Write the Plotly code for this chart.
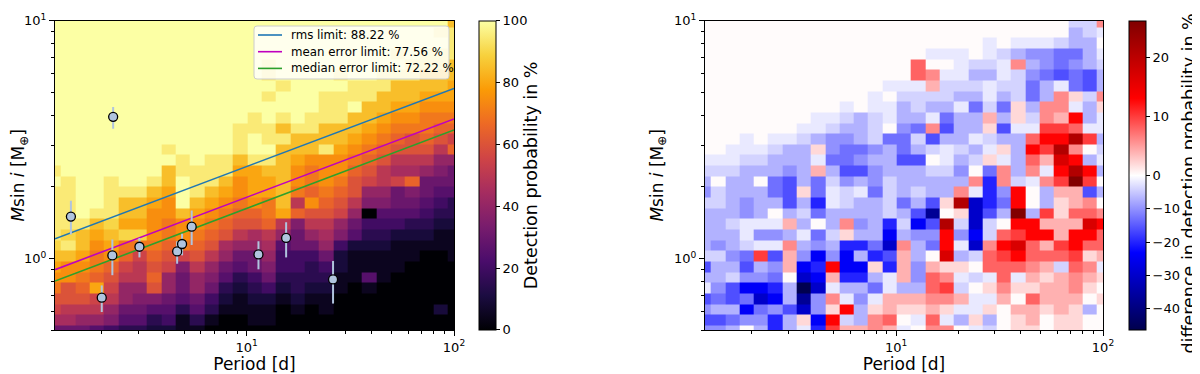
import numpy as np
import plotly.graph_objects as go

# injection grid: log10 of first bin edge and bin width (period, mass)
LOGP_START, LOGP_STEP = 0.0352, 0.0691
LOGM_START, LOGM_STEP = -0.3263, 0.0448

# detection probability, one string per period bin (low -> high mass),
# each character is a 5 % step: '0' = 0 %, 'K' = 100 %
LEVELS = "0123456789ABCDEFGHIJK"
det_columns = [
    "69BCEFGHIJJJJJKJKKKKKKKKKKKKKK",
    "69ACCFFHJIJJJJJKKKKKKKKKKKKKKK",
    "68ACDEFGHHJKKKKKKKKKKKKKKKKKKK",
    "58ABGDEEFGHJKKKKKKKKKKKKKKKKKK",
    "478ABCDFGHIJJJJKKKKKKKKKKKKKKK",
    "35688ABDEIGHHJKKKKKKKKKKKKKKKK",
    "35678AABEIGHHJKKKKKKKKKKKKKKKK",
    "2357CDCDEFFFGHJKKKKKKKKKKKKKKK",
    "245688BCDEEFFGHHKJKKKKKKKKKKKK",
    "1135667BEFFHKKKJJKKKKKKKKKKKKK",
    "135688ACDEFGHJJJKKKKKKKKKKKKKK",
    "0134678ACDEFGHJJJKKKKKKKKKKKKK",
    "001235689CDEFGHJJKKKKKKKKKKKKK",
    "001123568ACDEFFGHJJJKKKKKKKKKK",
    "0112346689CDFGGGJKKJJKKKKKKKKK",
    "011246789ADEEGGHJKJJKKJKJJKKKK",
    "0001234458AGHHHHHHJHJKKJKKKKKK",
    "00123344667DAEFFGHHJKKKKKKKKKK",
    "0001233468ACFDEEFHHJJKKKKKKKKK",
    "0011234689ACDEFFFJHHJJJKKKKKKK",
    "00001122478BCDEFFGHHJJJKJKKKKK",
    "000001112568ACCDEFGHHKJJKKKKKK",
    "00001511234078BCDEFGHHJJKKKKKK",
    "00000111234578AACDEFGHHJJKKKKK",
    "00000011124566B9ACDEFGHHJKJKKK",
    "00000001123567D9ACCEFGHHJJKKKK",
    "0000000012345668ACDEEFGHHJJKKK",
    "00200000112345678ACDEFGHHJJKJK",
    "00000001112335668DBDEFGGHHJJJH",
]

# difference in detection probability (%), one string per mass bin from the
# top row down, low -> high period
DIFF_CODE = {
    ".": 0.2,
    "a": -2, "b": -4, "c": -7, "d": -10, "e": -13, "f": -16,
    "g": -20, "h": -24, "i": -30, "j": -37, "k": -46,
    "A": 2, "B": 4, "C": 6, "D": 8, "E": 10, "F": 13,
    "G": 17, "H": 21, "I": 26,
}
diff_rows = [
    "." * 26 + "bbC",
    "." * 26 + "cba",
    "." * 20 + "a.aaabcc.",
    "." * 16 + "aaa.abcddeeca",
    "." * 15 + "D..abbaCcdedcb",
    "." * 15 + "DCaaccabdefefc",
    "." * 13 + "aaaBbbbabbecaefc",
    "." * 12 + "a.bbbbccacbecCAbC",
    "." * 10 + "a.aacbccaebeAcCCacA",
    "." * 8 + "aabcbaccaeccBcAbCBFca",
    "." * 7 + "aabccb.deCfccAfaaEEDaa",
    "...a.aab" + "cddcbeeb" + "fccabccDFFHEc",
    "..aaabcc" + "Adeedcec" + "babcaAcFEHC.b",
    "aaabbccc" + "aeedccff" + ".acbAacDBGFca",
    "bbbcccdc" + "Bcffdccc" + "bbd.eCcCaFHFc",
    "c.cc.efc" + "ebdcdbc" + "ccccCgCbaCEIE.",
    "dbcccefA" + "eabaebc" + "bccCagdF.cBBfc",
    "bbcdccfc" + "gabccbe" + "cfAHigeF.cABC.",
    "cccdc.cb" + "eccccbc" + "fj.AifcIcEADDC",
    "ccbaaaBc" + ".cCdcgbh" + "fHbib.FFBBBGF",
    "cccaddca" + "ebAcchcd" + "dFdhbDEFFBFFD",
    "cdcbaaCc" + "dcggeiCc" + "eFaiCFGDBEFDD",
    "bbdeEfBd" + "hdhcgfBc" + ".GcbDEFDDDEAB",
    "fccfcdBh" + "gFhhAgBd" + "BAA.DDDCBbDCa",
    "ccbdde.i" + "hBggcaBd" + "DCabaDaBABCBA",
    "adfhhgck" + "iacceacc" + "DEb.ACAABBCA.",
    "fefeihcj" + "dCadaBBB" + "CCBaaB.DBBB.A",
    "dcchedfi" + "dAFcABAA" + "BAaaA.BBABAc.",
    "ffeddgcA" + "hFbcCD.a" + "DacAc.AB.AA..",
    "ddc.cgca" + "gEBBCBa." + "CC.ab.AA.AA..",
]
DIFF_MIN, DIFF_MAX = -46.3, 26.2

# known planets
planet_period = [2.27, 1.42, 2.25, 2.00, 3.04, 4.62, 4.88, 5.43, 15.5, 11.4, 26.1]
planet_mass = [3.94, 1.50, 1.03, 0.684, 1.12, 1.07, 1.15, 1.36, 1.22, 1.04, 0.816]
planet_err_hi = [0.40, 0.25, 0.17, 0.086, 0.10, 0.11, 0.12, 0.23, 0.20, 0.14, 0.16]
planet_err_lo = [0.43, 0.24, 0.18, 0.089, 0.11, 0.12, 0.12, 0.22, 0.21, 0.14, 0.17]

# amplitude limits
limit_period = [1.19, 100]
limit_lines = {
    "rms limit: 88.22 %": ([1.21, 5.19], "#1f77b4"),
    "mean error limit: 77.56 %": ([0.897, 3.86], "#bf00bf"),
    "median error limit: 72.22 %": ([0.803, 3.47], "#2ca02c"),
}

for c in det_columns:
    assert len(c) == 30, c
for r in diff_rows:
    assert len(r) == 29, r

p_edges = 10 ** (LOGP_START + LOGP_STEP * np.arange(len(det_columns) + 1))
m_edges = 10 ** (LOGM_START + LOGM_STEP * np.arange(len(diff_rows) + 1))

z_det = np.array([[LEVELS.index(ch) * 5 for ch in col] for col in det_columns]).T
z_diff = np.array([[DIFF_CODE[ch] for ch in row] for row in diff_rows[::-1]])
# two-slope normalisation centred on zero
z_norm = np.where(z_diff >= 0, 0.5 + z_diff / (2 * DIFF_MAX), 0.5 + z_diff / (-2 * DIFF_MIN))
diff_ticks = [20, 10, 0, -10, -20, -30, -40]
diff_tickpos = [0.5 + v / (2 * DIFF_MAX) if v >= 0 else 0.5 + v / (-2 * DIFF_MIN) for v in diff_ticks]

seismic = [[0, "rgb(0,0,77)"], [0.25, "rgb(0,0,255)"], [0.5, "rgb(255,255,255)"],
           [0.75, "rgb(255,0,0)"], [1, "rgb(128,0,0)"]]

# the page body has an 8 px margin, so lay the figure out 8 px smaller
OFF = 8
W, H = 1200 - OFF, 374 - OFF
def fx(px):
    return (px - OFF) / W
def fy(py):
    return 1 - (py - OFF) / H

ytop, ybot = 20.7, 330
ydom = [fy(ybot), fy(ytop)]
cb_len = (ybot - ytop) / H
cb_y = fy((ytop + ybot) / 2)

fig = go.Figure()

fig.add_trace(go.Heatmap(
    z=z_det, x=p_edges, y=m_edges, colorscale="Inferno", zmin=0, zmax=100,
    xaxis="x", yaxis="y",
    colorbar=dict(
        x=fx(479), xanchor="left", xpad=0, ypad=0, thickness=17, len=cb_len, y=cb_y,
        yanchor="middle", outlinecolor="black", outlinewidth=1, ticks="outside",
        ticklen=4, tickcolor="black", tickvals=[0, 20, 40, 60, 80, 100],
        tickfont=dict(size=13, color="black"),
        title=dict(text="Detection probability in %", side="right", font=dict(size=17.5)),
    ),
))

for name, (vals, col) in limit_lines.items():
    fig.add_trace(go.Scatter(
        x=limit_period, y=vals, mode="lines", name=name, showlegend=False,
        line=dict(color=col, width=1.6), xaxis="x", yaxis="y",
    ))

fig.add_trace(go.Scatter(
    x=planet_period, y=planet_mass, mode="markers", showlegend=False,
    marker=dict(size=9, color="#b0c4de", line=dict(color="black", width=1.3)),
    error_y=dict(type="data", array=planet_err_hi, arrayminus=planet_err_lo,
                 color="#b0c4de", thickness=2, width=0),
    xaxis="x", yaxis="y",
))

fig.add_trace(go.Heatmap(
    z=z_norm, x=p_edges, y=m_edges, colorscale=seismic, zmin=0, zmax=1,
    xaxis="x2", yaxis="y2",
    colorbar=dict(
        x=fx(1129), xanchor="left", xpad=0, ypad=0, thickness=17, len=cb_len, y=cb_y,
        yanchor="middle", outlinecolor="black", outlinewidth=1, ticks="outside",
        ticklen=4, tickcolor="black", tickvals=diff_tickpos,
        ticktext=[str(v).replace("-", "\u2212") for v in diff_ticks],
        tickfont=dict(size=13, color="black"),
    ),
))

# right colourbar label, placed by hand so it stays inside the page
fig.add_annotation(
    text="difference in detection probability in %", textangle=-90,
    x=fx(1188), y=fy(183.5), xref="paper", yref="paper",
    xanchor="center", yanchor="middle", showarrow=False, font=dict(size=17.5),
)

# legend box drawn by hand (matplotlib-style, compact rows)
bx0, bx1, by0, by1, rad = fx(254), fx(449), fy(79), fy(26), 3
rx, ry = rad / W, rad / H
box_path = (
    f"M{bx0 + rx},{by1} L{bx1 - rx},{by1} Q{bx1},{by1} {bx1},{by1 - ry} "
    f"L{bx1},{by0 + ry} Q{bx1},{by0} {bx1 - rx},{by0} L{bx0 + rx},{by0} "
    f"Q{bx0},{by0} {bx0},{by0 + ry} L{bx0},{by1 - ry} Q{bx0},{by1} {bx0 + rx},{by1} Z"
)
fig.add_shape(type="path", path=box_path, xref="paper", yref="paper",
              fillcolor="rgba(255,255,255,0.8)", line=dict(color="#cccccc", width=1))
for i, (name, (vals, col)) in enumerate(limit_lines.items()):
    row_y = fy(35 + 16.7 * i)
    fig.add_shape(type="line", xref="paper", yref="paper", x0=fx(258), x1=fx(282),
                  y0=row_y, y1=row_y, line=dict(color=col, width=1.6))
    fig.add_annotation(text=name, x=fx(289), y=row_y, xref="paper", yref="paper",
                       xanchor="left", yanchor="middle", showarrow=False,
                       font=dict(size=11.8))

p_minor = [2, 3, 4, 5, 6, 7, 8, 9, 20, 30, 40, 50, 60, 70, 80, 90]
m_minor = [0.5, 0.6, 0.7, 0.8, 0.9, 2, 3, 4, 5, 6, 7, 8, 9]
axis_style = dict(
    type="log", showline=True, linecolor="black", linewidth=1, mirror=True,
    ticks="outside", ticklen=5, tickcolor="black", showgrid=False, zeroline=False,
    tickfont=dict(size=13, color="black"),
)
xstyle = dict(axis_style, range=[np.log10(1.19), 2], tickvals=[1, 10, 100],
              ticktext=["10<sup>0</sup>", "10<sup>1</sup>", "10<sup>2</sup>"],
              minor=dict(ticks="outside", ticklen=3, tickcolor="black", tickvals=p_minor),
              title=dict(text="Period [d]", font=dict(size=17), standoff=5))
ystyle = dict(axis_style, range=[np.log10(0.5), 1], domain=ydom, tickvals=[1, 10],
              ticktext=["10<sup>0</sup>", "10<sup>1</sup>"],
              minor=dict(ticks="outside", ticklen=3, tickcolor="black", tickvals=m_minor),
              title=dict(text="<i>M</i>sin <i>i</i> [M<sub>\u2295</sub>]",
                         font=dict(size=17), standoff=6))

fig.update_layout(
    width=W, height=H, margin=dict(l=0, r=0, t=0, b=0, autoexpand=False),
    paper_bgcolor="white", plot_bgcolor="white",
    font=dict(family="DejaVu Sans", color="black"),
    xaxis=dict(xstyle, domain=[fx(55), fx(454)], anchor="y"),
    yaxis=dict(ystyle, anchor="x"),
    xaxis2=dict(xstyle, domain=[fx(705), fx(1103)], anchor="y2"),
    yaxis2=dict(ystyle, anchor="x2"),
    showlegend=False,
)

fig.write_html("out.html")
